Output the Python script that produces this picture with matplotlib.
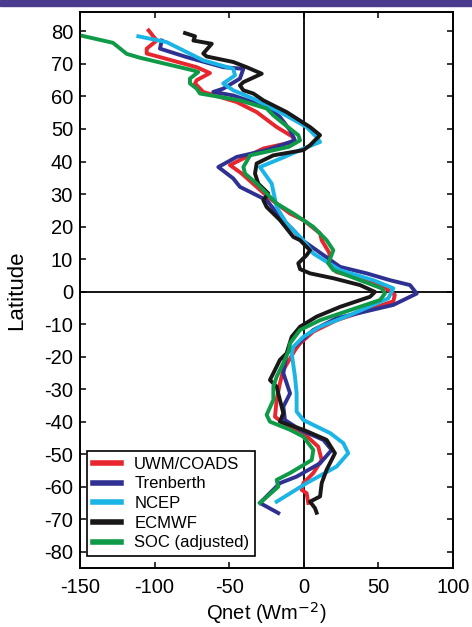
import matplotlib
matplotlib.use('Agg')
import matplotlib.pyplot as plt
from matplotlib.patches import Rectangle

plt.rcParams['font.family'] = ['Liberation Sans', 'DejaVu Sans']
plt.rcParams['axes.unicode_minus'] = False

# net surface heat flux vs latitude
uwm_lat = [80.3, 77.2, 74.7, 73.2, 72.1, 69, 67.2, 65, 64, 61.4, 58.3, 55.2, 50.6, 47.5, 46, 44,
           38.9, 36.3, 32.2, 28.6, 24, 22, 17.9, 15.8, 12, 8, 6, 4, 2, -1, -3, -8.8, -12.3,
           -15.9, -18, -24.1, -28.2, -33.3, -38.5, -40.5, -43.5, -47.7, -51.8, -55.8, -58.9,
           -61, -62, -65]
uwm_q = [-104, -98.6, -105.3, -105.3, -96.4, -71.8, -62.9, -71.8, -72.9, -67.4, -45, -31.6,
         -18.2, -7, -7, -27.1, -49.5, -41.6, -31.6, -22.7, -9.2, -0.3, 10.9, 12, 17, 18, 22, 38,
         52, 61, 60, 22, 6.4, -2.5, -5.9, -13.7, -16, -18.2, -19.3, -13.7, -0.3, 9.7, 12, 6.4,
         -0.3, -1.4, 1.9, 3]

tren_lat = [77.2, 74.7, 72.1, 69, 68.5, 65.5, 62.4, 61.4, 60.3, 56.8, 53.7, 49.6, 46.5, 43.5,
            41.4, 38.3, 34.8, 32.2, 28.1, 23, 18.9, 15.8, 12.7, 7.6, 5.6, 3.5, 2, -0.6, -4.1,
            -8.2, -11.8, -15.4, -19, -25.1, -31.3, -35.4, -39.5, -42.5, -45.6, -48.7, -52.8,
            -56.9, -58.9, -65, -68.1]
tren_q = [-95.2, -96.4, -78.5, -54, -40.5, -42.8, -54, -60.7, -47.3, -24.9, -16, -9.2, -5.9,
          -24.9, -45, -57.3, -47.3, -42.8, -24.9, -16, -7, -1, 8.6, 24.3, 42.2, 57.8, 71.2, 75.7,
          60, 22, 6.4, -2.5, -11.5, -13.7, -9.2, -13.7, -12.6, -2.5, 13.1, 18.7, 10.9, -4.8,
          -16, -29.4, -17.1]

ncep_lat = [78.5, 76.7, 71.1, 68.5, 66.5, 64, 61.9, 59.3, 55.2, 50.6, 47.5, 46, 44, 41, 38.3,
            33.2, 26, 20.9, 15.8, 11.7, 6.6, 3.5, 1, -2.1, -7.2, -10.8, -13.9, -17, -19, -26.2,
            -31.3, -36.9, -39.5, -43.5, -46.6, -49.7, -53.8, -58.9, -64.6]
ncep_q = [-110.9, -91.9, -67.4, -47.3, -46.1, -54, -47.3, -33.8, -16, 1.9, 8.6, 10.9, 0, -15,
          -29.4, -21.5, -18.2, -11.5, -0.3, 6.4, 24.3, 46.6, 60, 56.6, 31, 10.9, -0.3, -7, -8.1,
          -5.9, -4.8, -4.8, -0.3, 17.6, 26.5, 29.8, 22, 1.9, -18.2]

ecmwf_lat = [79.5, 78.5, 77.2, 76.2, 73.2, 72.3, 70.6, 69, 67, 64.4, 63.4, 61.9, 60.9, 58.8,
             55.2, 50.6, 48.1, 45, 43.5, 41.9, 39.4, 36.3, 33.2, 30.2, 28.1, 26, 22, 16.8, 15.8,
             12.7, 11.2, 8.7, 6.9, 5.6, 4.1, 2, -0.1, -1.6, -4.7, -7.7, -10.8, -13.9, -19, -21,
             -25.1, -27.2, -29.2, -33.3, -37.4, -40, -42.5, -45.6, -49.7, -54.8, -58.9, -63,
             -64.6, -66.6, -68]
ecmwf_q = [-79.6, -72.9, -74, -61.7, -67.4, -65.1, -47.3, -38.3, -28.2, -40.5, -42.8, -40.5,
           -33.8, -27.1, -11.5, 4.2, 10.9, 4.2, -0.3, -20.4, -31.6, -32.7, -30.5, -23.8, -27.1,
           -24.9, -16, -7, -2.5, 4.2, 1.9, -3.7, -2.5, 4.2, 19.8, 37.7, 47.7, 44.4, 24.3, 8.6,
           -2.5, -8.1, -11.5, -16, -20.4, -22.7, -18.2, -16, -13.7, -16, -0.3, 15.3, 20.9, 15.3,
           12, 10.9, 4.2, 7.5, 8.6]

soc_lat = [78.8, 76.5, 73.1, 71.9, 68, 67.5, 65.5, 64, 62.4, 60.9, 58.8, 56.3, 54.2, 51.7, 48.1,
           46.5, 44.5, 41.9, 38.3, 36.3, 33.2, 30.2, 27.1, 24, 19.9, 15.8, 12.7, 8.7, 6.6, 3.5, 1,
           -0.6, -2.6, -5.7, -8.8, -11.8, -15.9, -18, -22, -26.2, -29.2, -33.3, -37.9, -40,
           -42.5, -44.6, -48.7, -51.8, -55.8, -57.9, -60, -65]
soc_q = [-150, -127.9, -118.7, -109.8, -74, -70.7, -76.3, -76.3, -71.8, -69.6, -42.8, -24.9,
         -20.4, -13.7, -3.7, -2.5, -10, -36, -40.5, -39.4, -31.6, -24.9, -18.2, -7, 6.4, 15.3,
         19.8, 16.4, 19.8, 37.7, 52.2, 54.4, 51.1, 31, 10.9, -2.5, -9.2, -10, -13.7, -18.2,
         -20.4, -20.4, -24.9, -22.7, -9.2, -0.3, 6.4, 5.3, -9.2, -18.2, -17.1, -29.4]

series = [
    ('UWM/COADS', uwm_q, uwm_lat, '#e8262d'),
    ('Trenberth', tren_q, tren_lat, '#2e3192'),
    ('NCEP', ncep_q, ncep_lat, '#1ab4e6'),
    ('ECMWF', ecmwf_q, ecmwf_lat, '#1a1718'),
    ('SOC (adjusted)', soc_q, soc_lat, '#0f9a48'),
]

fig = plt.figure(figsize=(4.72, 6.27), dpi=100)
# purple band along the top edge
fig.patches.append(Rectangle((0, 0.991), 1, 0.009, transform=fig.transFigure,
                             color='#4b3b8f', zorder=0))
ax = fig.add_axes([0.1695, 0.0941, 0.7902, 0.8869])

ax.axvline(0, color='black', lw=1.3, zorder=1)
ax.axhline(0, color='black', lw=1.3, zorder=1)

for name, q, lat, c in series:
    ax.plot(q, lat, color=c, lw=2.8, label=name, zorder=2)

ax.set_xlim(-150, 100)
ax.set_ylim(-85, 86)
ax.set_xticks(range(-150, 101, 50))
ax.set_yticks(range(-80, 81, 10))
ax.tick_params(direction='in', top=True, right=True, length=4.3, width=1.1,
               labelsize=14.5, pad=5)
ax.tick_params(axis='x', pad=7)
for s in ax.spines.values():
    s.set_linewidth(1.4)

ax.set_xlabel('Qnet (Wm$^{-2}$)', fontsize=14.5)
ax.set_ylabel('Latitude', fontsize=16)
ax.xaxis.set_label_coords(0.5, -0.058)
ax.yaxis.set_label_coords(-0.142, 0.5)

leg = ax.legend(loc='lower left', bbox_to_anchor=(0.018, 0.021), borderaxespad=0,
                fontsize=12, handlelength=1.7, handletextpad=0.8,
                labelspacing=0.28, borderpad=0.35, fancybox=False, framealpha=1,
                edgecolor='black')
leg.get_frame().set_linewidth(1.2)
for h in leg.get_lines():
    h.set_linewidth(4)

plt.savefig('out.png', dpi=100)
